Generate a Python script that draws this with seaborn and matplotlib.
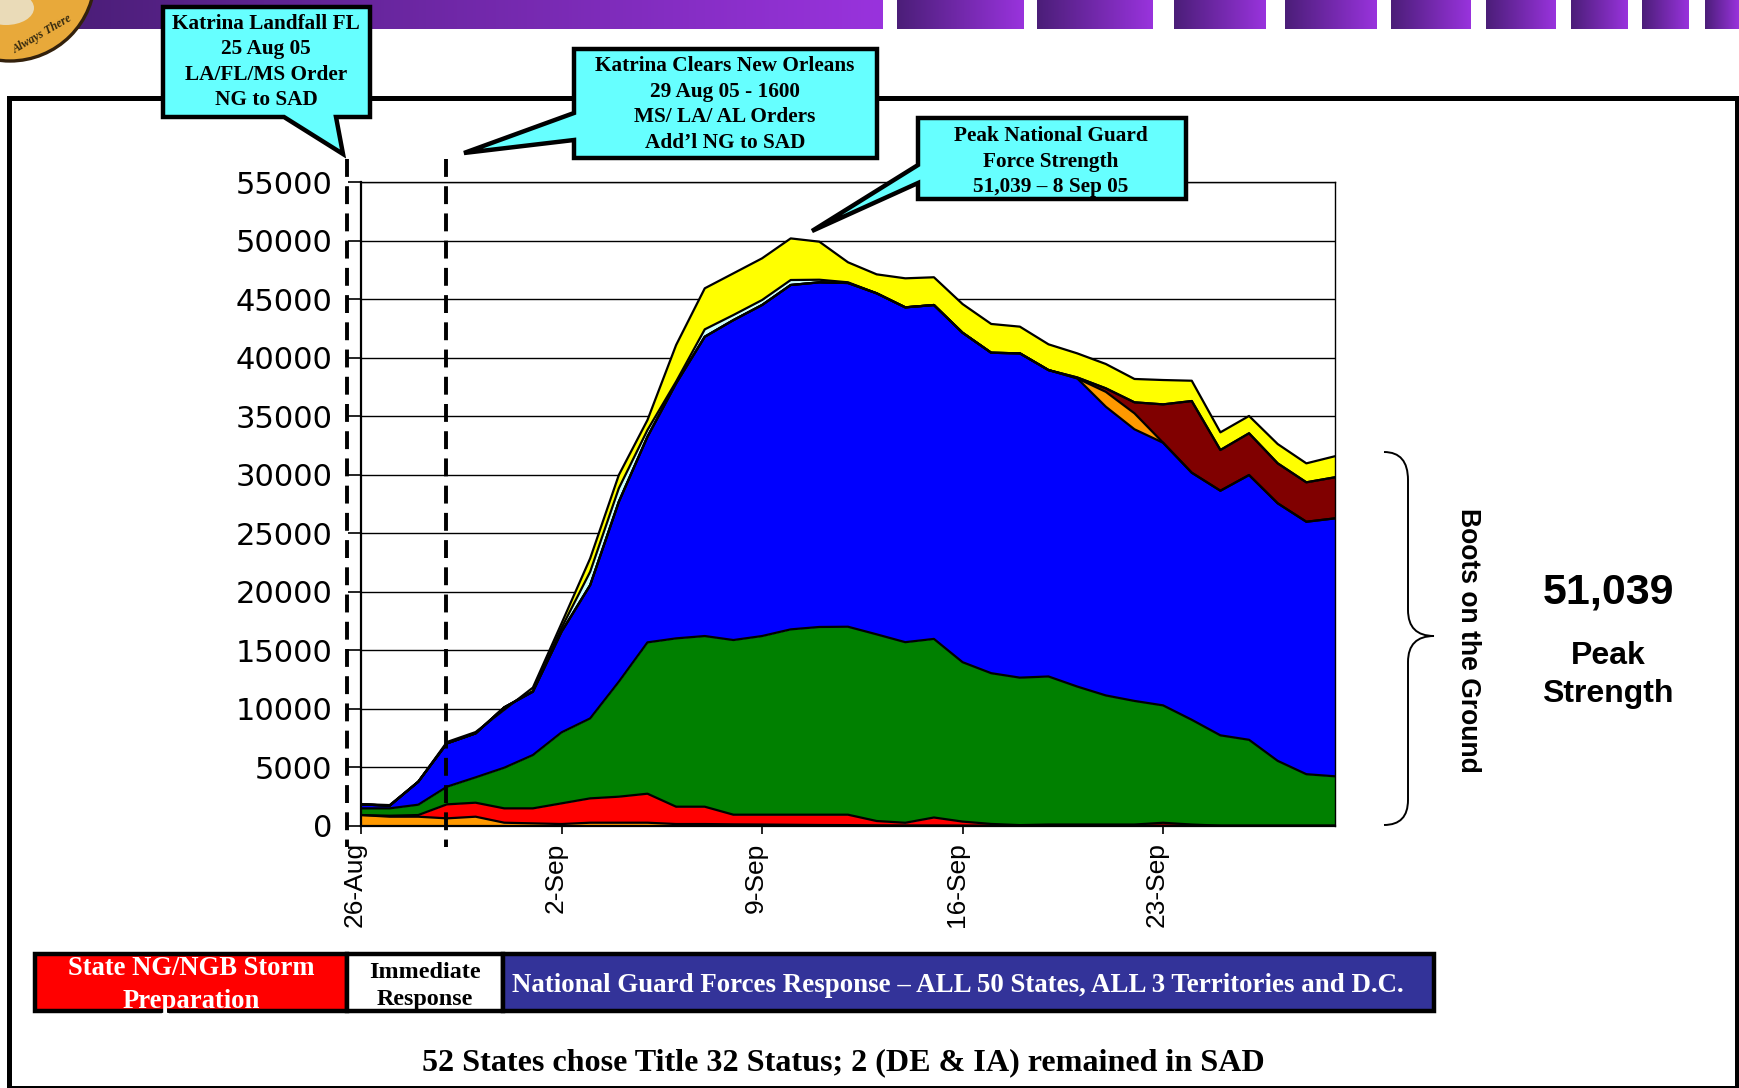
"""Katrina National Guard response chart."""

import matplotlib.pyplot as plt
import numpy as np
import pandas as pd
import seaborn as sns
from matplotlib.colors import LinearSegmentedColormap
from matplotlib.patches import Circle, Ellipse, PathPatch, Polygon, Rectangle
from matplotlib.path import Path
from matplotlib.transforms import ScaledTranslation

# Top edge of every stacked layer, one value per day
DAYS = pd.date_range("2005-08-26", "2005-09-29")
ORANGE_TOP = [911, 769, 769, 627, 769, 256, 199, 142, 256, 256, 256, 142, 142, 114, 100, 80, 60,
              50, 30, 20, 20, 10, 10, 10, 10, 10, 10, 10, 10, 10, 0, 0, 0, 0, 0]
RED_TOP = [911, 854, 911, 1823, 1965, 1481, 1481, 1908, 2335, 2478, 2734, 1623, 1623, 940, 940, 940, 940,
           940, 400, 250, 700, 350, 150, 50, 100, 100, 100, 100, 250, 100, 0, 0, 0, 0, 0]
GREEN_TOP = [1481, 1481, 1794, 3332, 4130, 4955, 6038, 7974, 9170, 12303, 15664, 16006, 16205, 15863,
             16205, 16775, 16980, 17000, 16350, 15680, 15960, 13970, 13030, 12650, 12750, 11890, 11130,
             10660, 10280, 9050, 7720, 7340, 5540, 4400, 4220]
BLUE_TOP = [1823, 1709, 3759, 7034, 7889, 10110, 11449, 16575, 20560, 27680, 33240, 37800, 41780, 43200,
            44490, 46200, 46428, 46370, 45490, 44290, 44490, 42120, 40410, 40360, 38930, 38225, 35800,
            33870, 32720, 30160, 28620, 29960, 27545, 25970, 26260]
AMBER_TOP = [1823, 1709, 3759, 7034, 7889, 10110, 11449, 16575, 20560, 27680, 33240, 37800, 41780, 43200,
             44490, 46200, 46428, 46370, 45490, 44290, 44490, 42120, 40410, 40360, 38930, 38225, 37070,
             35235, 32720, 30160, 28620, 29960, 27545, 25970, 26260]
MAROON_TOP = [1823, 1709, 3759, 7034, 7889, 10110, 11449, 16575, 20560, 27680, 33240, 37800, 41780, 43200,
              44490, 46200, 46428, 46370, 45490, 44290, 44490, 42120, 40410, 40360, 38930, 38300, 37370,
              36175, 36000, 36285, 32100, 33530, 30960, 29340, 29770]
CYAN_TOP = [1823, 1709, 3759, 7034, 7889, 10110, 11500, 16900, 21700, 28830, 33810, 37950, 42410, 43635,
            44915, 46625, 46650, 46430, 45490, 44290, 44490, 42120, 40410, 40360, 38930, 38300, 37370,
            36175, 36000, 36285, 32100, 33530, 30960, 29340, 29770]
YELLOW_TOP = [1850, 1760, 3760, 7150, 8000, 9900, 11800, 17287, 22840, 29964, 34663, 41071, 45916, 47196,
              48478, 50180, 49900, 48140, 47110, 46770, 46860, 44570, 42870, 42640, 41130, 40360, 39450,
              38170, 38080, 38020, 33610, 35010, 32610, 30960, 31570]

LAYERS = ["orange", "red", "green", "blue", "amber", "maroon", "cyan", "yellow"]
TOPS = [ORANGE_TOP, RED_TOP, GREEN_TOP, BLUE_TOP, AMBER_TOP, MAROON_TOP, CYAN_TOP, YELLOW_TOP]
COLORS = ["#FF9900", "#FF0000", "#008000", "#0000FF", "#FF9900", "#800000", "#CCFFFF", "#FFFF00"]

Y_TICKS = [0, 5000, 10000, 15000, 20000, 25000, 30000, 35000, 40000, 45000, 50000, 55000]
X_TICK_DATES = ["2005-08-26", "2005-09-02", "2005-09-09", "2005-09-16", "2005-09-23"]
X_TICK_LABELS = ["26-Aug", "2-Sep", "9-Sep", "16-Sep", "23-Sep"]

W, H = 1739, 1088
SERIF = "Liberation Serif"
SANS = "Liberation Sans"

sns.set_style("white")
fig = plt.figure(figsize=(W / 100, H / 100), dpi=100, facecolor="white")

# main chart
ax = fig.add_axes([361 / W, 1 - 825.7 / H, 974 / W, 643.7 / H])
ax.set_axisbelow(True)
ax.grid(axis="y", color="black", lw=1)

lower = np.zeros(len(DAYS))
for top, color in zip(TOPS, COLORS):
    ax.fill_between(DAYS, lower, top, color=color, lw=0)
    lower = np.array(top)

table = pd.DataFrame({"day": DAYS})
for name, top in zip(LAYERS, TOPS):
    table[name] = top
table = table.melt(id_vars="day", var_name="layer", value_name="top")
sns.lineplot(data=table, x="day", y="top", hue="layer", palette=["black"] * len(LAYERS),
             estimator=None, legend=False, lw=1.6, ax=ax)

ax.set_xlim(DAYS[0], DAYS[-1])
ax.set_ylim(0, 55000)
ax.set_xlabel("")
ax.set_ylabel("")
ax.set_yticks(Y_TICKS)
ax.set_yticklabels([str(v) for v in Y_TICKS], fontfamily="DejaVu Sans", fontsize=22, color="black")
ax.set_xticks(pd.to_datetime(X_TICK_DATES))
ax.set_xticklabels(X_TICK_LABELS, rotation=90, fontfamily=SANS, fontsize=19, color="black")
ax.tick_params(axis="y", length=9.5, width=1.2, color="black", left=True, pad=11)
ax.tick_params(axis="x", length=6, width=1.2, color="black", bottom=True, pad=6)
shift = ScaledTranslation(-6 / 100, 0, fig.dpi_scale_trans)
for label in ax.get_xticklabels():
    label.set_transform(label.get_transform() + shift)
for side in ["top", "right"]:
    ax.spines[side].set(color="black", lw=1)
for side in ["left", "bottom"]:
    ax.spines[side].set(color="black", lw=1.6)

# overlay in picture pixels for the slide furniture
over = fig.add_axes([0, 0, 1, 1], zorder=5)
over.axis("off")
over.patch.set_alpha(0)

# purple banner
grad = np.linspace(0, 1, 256).reshape(1, -1)
banner_cmap = LinearSegmentedColormap.from_list("banner", ["#4B1E78", "#9933DD"])
for x0, x1 in [(70, 883), (897, 1024), (1037, 1153), (1174, 1266), (1285, 1377),
               (1391, 1471), (1486, 1556), (1571, 1628), (1642, 1689), (1705, 1739)]:
    over.imshow(grad, extent=[x0, x1, 29, 0], cmap=banner_cmap, aspect="auto", zorder=1)
over.set_xlim(0, W)
over.set_ylim(H, 0)

# seal in the corner
over.add_patch(Circle((10, -24), 85, fc="#E8A93A", ec="#33210C", lw=2.4, zorder=2))
over.add_patch(Ellipse((6, 8), 56, 34, fc="#EADBB8", ec="none", zorder=2))
over.text(42, 34, "Always There", family=SERIF, style="italic", weight="bold", fontsize=8.5,
          color="#33290F", rotation=30, ha="center", va="center", zorder=3)

# slide frame
over.add_patch(Rectangle((9, 98), 1728, 990, fc="none", ec="black", lw=3.6, zorder=2, clip_on=False))


def callout(points, cx, cy, text):
    over.add_patch(Polygon(points, closed=True, fc="#66FFFF", ec="black", lw=3.2,
                           joinstyle="miter", zorder=4))
    over.text(cx, cy, text, family=SERIF, weight="bold", fontsize=15.3, linespacing=1.36,
              ha="center", va="center", color="black", zorder=5)


callout([(163, 7), (370, 7), (370, 117), (336, 117), (343, 154), (284, 117), (163, 117)],
        266, 62, "Katrina Landfall FL\n25 Aug 05\nLA/FL/MS Order\nNG to SAD")
callout([(574, 49), (877, 49), (877, 158), (574, 158), (574, 140), (464, 153), (574, 113)],
        725, 104.5, "Katrina Clears New Orleans\n29 Aug 05 - 1600\nMS/ LA/ AL Orders\nAdd\u2019l NG to SAD")
callout([(918, 118), (1186, 118), (1186, 199), (918, 199), (918, 183), (812, 231), (918, 165)],
        1051, 161.5, "Peak National Guard\nForce Strength\n51,039 \u2013 8 Sep 05")

# dashed event lines
for x, y0 in [(347, 159), (445.5, 159)]:
    over.plot([x, x], [y0, 847], color="black", lw=2.8, ls=(0, (4.6, 2.4)), zorder=3)

# phase bar
for x0, x1, fc in [(35, 347, "#FF0000"), (347, 503, "white"), (503, 1434, "#333399")]:
    over.add_patch(Rectangle((x0, 954), x1 - x0, 57, fc=fc, ec="black", lw=3.2, zorder=3))
over.text(191, 985, "State NG/NGB Storm\nPreparation", family=SERIF, weight="bold", fontsize=19.2,
          color="white", ha="center", va="center", linespacing=1.45, zorder=4)
over.text(425, 986, "Immediate\nResponse", family=SERIF, weight="bold", fontsize=17.4,
          color="black", ha="center", va="center", linespacing=1.4, zorder=4)
over.text(512, 985, "National Guard Forces Response \u2013 ALL 50 States, ALL 3 Territories and D.C.",
          family=SERIF, weight="bold", fontsize=19.4, color="white", ha="left", va="center", zorder=4)
over.text(843, 1063, "52 States chose Title 32 Status; 2 (DE & IA) remained in SAD", family=SERIF,
          weight="bold", fontsize=23.1, color="black", ha="center", va="center", zorder=4)

# brace on the right
brace = Path(
    [(1384, 452), (1408, 452), (1408, 480), (1408, 480), (1408, 610), (1408, 610), (1408, 636), (1434, 636),
     (1408, 636), (1408, 662), (1408, 662), (1408, 800), (1408, 800), (1408, 825), (1384, 825)],
    [Path.MOVETO, Path.CURVE3, Path.CURVE3, Path.LINETO, Path.LINETO, Path.LINETO, Path.CURVE3, Path.CURVE3,
     Path.CURVE3, Path.CURVE3, Path.LINETO, Path.LINETO, Path.LINETO, Path.CURVE3, Path.CURVE3],
)
over.add_patch(PathPatch(brace, fc="none", ec="black", lw=1.4, zorder=3))
over.text(1468, 640, "Boots on the Ground", family=SANS, weight="bold", fontsize=19.1, rotation=-90,
          ha="center", va="center", color="black", zorder=4)
over.text(1608, 592, "51,039", family=SANS, weight="bold", fontsize=31, ha="center", va="center",
          color="black", zorder=4)
over.text(1608, 675, "Peak\nStrength", family=SANS, weight="bold", fontsize=23, ha="center", va="center",
          linespacing=1.32, color="black", zorder=4)

fig.savefig("out.png", dpi=100)
plt.close(fig)
